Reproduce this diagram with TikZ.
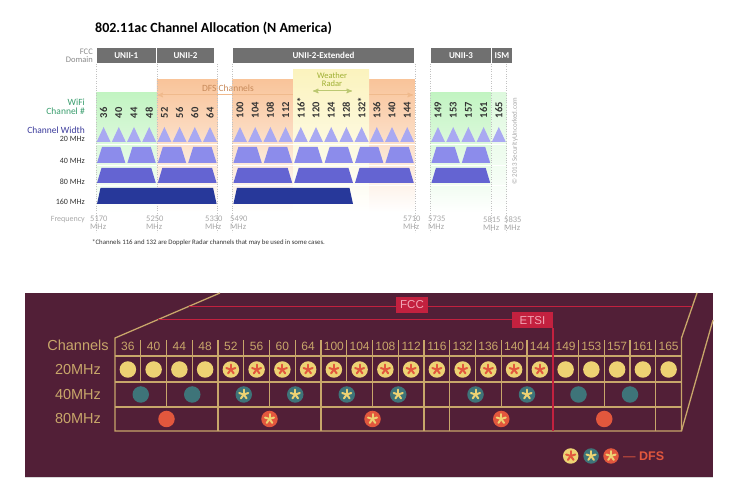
\documentclass[tikz,border=0pt]{standalone}
\usepackage{fontspec}
\setmainfont{Carlito}
\newfontfamily\arialfont{Liberation Sans}
\usetikzlibrary{arrows}
\usetikzlibrary{positioning}

\definecolor{barGray}{HTML}{707070}
\definecolor{labelGray}{HTML}{8A8A8A}
\definecolor{wifiGreen}{HTML}{3A9E6E}
\definecolor{widthBlue}{HTML}{3C3C9C}
\definecolor{tri20}{HTML}{A9A9F2}
\definecolor{trap40}{HTML}{8C8CEB}
\definecolor{trap80}{HTML}{6464D2}
\definecolor{trap160}{HTML}{27389A}
\definecolor{dfsOrange}{HTML}{F9C49A}
\definecolor{dfsText}{HTML}{C88A5A}
\definecolor{zoneGreen}{HTML}{C2F4C2}
\definecolor{radarYellow}{HTML}{FBF3BE}
\definecolor{radarText}{HTML}{A0B034}
\definecolor{freqGray}{HTML}{A8A8A8}
\definecolor{maroonBg}{HTML}{521F37}
\definecolor{gridTan}{HTML}{C8A66A}
\definecolor{chipYellow}{HTML}{EDD273}
\definecolor{chipTeal}{HTML}{3E7479}
\definecolor{chipRed}{HTML}{E2573D}
\definecolor{regRed}{HTML}{C3213F}
\definecolor{regText}{HTML}{F2A7B6}

% star of a DFS chip
\newcommand{\dfsmark}[2]{%
  \foreach \a in {-90,-18,54,126,198}
    \draw[#2,line width=2pt,line cap=round] (#1.center) -- ++(\a:4.8);}
% band shape: style, left, right, top, bottom, inset
\newcommand{\bandshape}[6]{%
  \fill[#1] ({#2+1},#5) -- ({#2+#6},#4) -- ({#3-#6},#4) -- ({#3-1},#5) -- cycle;}

\begin{document}
\begin{tikzpicture}[x=1pt,y=-1pt,>=stealth',
    domainbar/.style={fill=barGray,text=white,font=\fontsize{9}{9}\selectfont\bfseries,inner sep=0pt,minimum height=15pt},
    rowlabel/.style={anchor=east,inner sep=0pt,font=\fontsize{8}{8}\selectfont,text=black!80},
    chnum/.style={rotate=90,anchor=west,inner sep=0pt,font=\fontsize{10.5}{10.5}\selectfont\bfseries,text=black!80},
    freqlabel/.style={anchor=north west,align=left,inner sep=0pt,font=\fontsize{8.5}{8}\selectfont,text=freqGray},
    gridline/.style={gridTan,line width=1.3pt},
    regline/.style={regRed,line width=1.6pt},
    regbox/.style={fill=regRed,text=regText,font=\arialfont\fontsize{11.5}{12}\selectfont,inner sep=0pt,minimum height=16pt},
    tanlabel/.style={text=gridTan,font=\arialfont\fontsize{14.5}{15}\selectfont,inner sep=0pt},
    chlabel/.style={text=gridTan,font=\arialfont\fontsize{12}{12}\selectfont,inner sep=0pt},
    chip/.style={circle,inner sep=0pt,minimum size=16.5pt},
    chip20/.style={chip,fill=chipYellow},
    chip40/.style={chip,fill=chipTeal},
    chip80/.style={chip,fill=chipRed}]

  \fill[white] (0,0) rectangle (748,486);
  \useasboundingbox (0,0) rectangle (748,486);

  %%% upper chart
  \node[anchor=west,inner sep=0pt,font=\fontsize{14}{14}\selectfont\bfseries] (title) at (95,28) {802.11ac Channel Allocation (N America)};

  \shade[top color=zoneGreen,bottom color=white] (96,93) rectangle (156.8,212);
  \shade[top color=dfsOrange,bottom color=white] (156.8,80) rectangle (217.6,212);
  \shade[top color=dfsOrange,bottom color=white] (232.4,80) rectangle (414.8,212);
  \shade[top color=zoneGreen,bottom color=white] (430.4,93) rectangle (491.2,212);
  \shade[top color=zoneGreen!55,bottom color=white] (491.2,93) rectangle (506.4,212);

  \coordinate (dfsL) at (157.5,95);
  \coordinate (dfsR) at (413,95);
  \draw[dfsOrange!85!brown,line width=1pt,<->] (dfsL) -- (dfsR);
  \node[inner sep=0pt,font=\fontsize{9.5}{9.5}\selectfont,text=dfsText] (dfs) at (228,88.5) {DFS Channels};

  \shade[top color=radarYellow,bottom color=white] (293.2,70) rectangle (369.2,212);
  \node[align=center,inner sep=0pt,font=\fontsize{8.5}{7.5}\selectfont,text=radarText] (radar) at (332,79.5) {Weather\\Radar};
  \coordinate (radL) at (313,91);
  \coordinate (radR) at (352,91);
  \draw[radarText!70,line width=1pt,<->] (radL) -- (radR);

  \foreach \y in {144.5,165.5,185.5}
    \draw[white,line width=1.5pt] (96,\y) -- (506.4,\y);
  \foreach \x in {96,156.8,217.6,232.4,414.8,430.4,491.2,506.4}
    \draw[freqGray!70,dotted] (\x,64) -- (\x,232);

  \node[anchor=east,align=right,inner sep=0pt,font=\fontsize{8.5}{8}\selectfont,text=labelGray] (fccdom) at (93,56) {FCC\\Domain};
  \node[domainbar,minimum width=59.5pt] (unii1) at (126.25,55.5) {UNII-1};
  \node[domainbar,minimum width=57pt] (unii2) at (185.5,55.5) {UNII-2};
  \node[domainbar,minimum width=181pt] (unii2e) at (323.5,55.5) {UNII-2-Extended};
  \node[domainbar,minimum width=60pt] (unii3) at (461,55.5) {UNII-3};
  \node[domainbar,minimum width=20pt] (ism) at (502,55.5) {ISM};

  \node[rowlabel,align=right,font=\fontsize{9.5}{8.5}\selectfont,text=wifiGreen] (wifi) at (85,107) {WiFi\\Channel \#};
  \node[rowlabel,font=\fontsize{9.5}{9.5}\selectfont,text=widthBlue] (width) at (85,130.5) {Channel Width};
  \node[rowlabel] (w20) at (85,138.5) {20 MHz};
  \node[rowlabel] (w40) at (85,161) {40 MHz};
  \node[rowlabel] (w80) at (85,182) {80 MHz};
  \node[rowlabel] (w160) at (85,202) {160 MHz};
  \node[rowlabel,text=freqGray] (freq) at (85,220) {Frequency};

  % channel numbers and 20 MHz
  \foreach \ch [count=\i from 0] in {36,40,44,48,52,56,60,64} {
    \node[chnum] (ch\ch) at ({96+15.2*\i+7.6},118.5) {\ch};
    \fill[tri20] ({96+15.2*\i+0.6},142) -- ({96+15.2*\i+7.6},127) -- ({96+15.2*\i+14.6},142) -- cycle;
  }
  \foreach \ch [count=\i from 0] in {100,104,108,112,116*,120,124,128,132*,136,140,144} {
    \node[chnum] (ch\i) at ({232.4+15.2*\i+7.6},118.5) {\ch};
    \fill[tri20] ({232.4+15.2*\i+0.6},142) -- ({232.4+15.2*\i+7.6},127) -- ({232.4+15.2*\i+14.6},142) -- cycle;
  }
  \foreach \ch [count=\i from 0] in {149,153,157,161,165} {
    \node[chnum] (ch\ch) at ({430.4+15.2*\i+7.6},118.5) {\ch};
    \fill[tri20] ({430.4+15.2*\i+0.6},142) -- ({430.4+15.2*\i+7.6},127) -- ({430.4+15.2*\i+14.6},142) -- cycle;
  }

  % 40, 80 and 160 MHz
  \foreach \x in {96,126.4,156.8,187.2,232.4,262.8,293.2,323.6,354,384.4,430.4,460.8} {
    \bandshape{trap40}{\x}{\x+30.4}{147}{163}{6}
  }
  \foreach \x in {96,156.8,232.4,293.2,354,430.4} {
    \bandshape{trap80}{\x}{\x+60.8}{168}{183}{5.5}
  }
  \foreach \x in {96,232.4} {
    \bandshape{trap160}{\x}{\x+121.6}{188}{204}{4.5}
  }

  \node[freqlabel] (f5170) at (90,216) {5170\\MHz};
  \node[freqlabel] (f5250) at (146,216) {5250\\MHz};
  \node[freqlabel] (f5330) at (205,216) {5330\\MHz};
  \node[freqlabel] (f5490) at (230,216) {5490\\MHz};
  \node[freqlabel] (f5710) at (403,216) {5710\\MHz};
  \node[freqlabel] (f5735) at (428,216) {5735\\MHz};
  \node[freqlabel] (f5815) at (483,216) {5815\\MHz};
  \node[freqlabel] (f5835) at (504,216) {5835\\MHz};

  \node[rotate=90,anchor=west,inner sep=0pt,font=\fontsize{7}{7}\selectfont,text=freqGray] (copy) at (515,185) {\textcopyright\ 2013 SecurityUncorked.com};
  \node[anchor=west,inner sep=0pt,font=\fontsize{6.8}{7}\selectfont,text=black!80] (note) at (92,243) {*Channels 116 and 132 are Doppler Radar channels that may be used in some cases.};

  %%% lower chart
  \fill[maroonBg] (25,293) rectangle (713,477);
  \draw[black!15,line width=1pt] (25,478) -- (713,478);

  \coordinate (gNW) at (115,338);
  \coordinate (gSW) at (115,431);
  \coordinate (gNE) at (681.5,338);
  \coordinate (gSE) at (681.5,431);
  \draw[gridline] (220,293) -- (gNW) -- (gSW) -- (gSE) -- (gNE) -- (697,293);
  \draw[gridline] (gSE) -- (713,320);
  \foreach \y in {356,382,407}
    \draw[gridline] (115,\y) -- (681.5,\y);
  \foreach \k in {1,...,16,18,19,20,21}
    \draw[gridline] ({115+25.75*\k},340) -- ({115+25.75*\k},382);
  \foreach \k in {2,4,6,8,10,12,13,15,19,21}
    \draw[gridline] ({115+25.75*\k},382) -- ({115+25.75*\k},407);
  \foreach \k in {4,8,12,13,21}
    \draw[gridline] ({115+25.75*\k},407) -- ({115+25.75*\k},431);

  % FCC and ETSI
  \coordinate (fccL) at (188.5,306.5);
  \coordinate (fccR) at (692.4,306.5);
  \coordinate (etsiL) at (157.7,319.7);
  \coordinate (etsiB) at (552.75,431);
  \node[regbox,minimum width=32pt] (fcc) at (412,305) {FCC};
  \node[regbox,minimum width=41.5pt] (etsi) at (532.5,320.3) {ETSI};
  \draw[regline] (fccL) -- (fcc.west |- fccL);
  \draw[regline] (fcc.east |- fccR) -- (fccR);
  \draw[regline] (etsiL) -- (etsi.west |- etsiL);
  \draw[regline] (etsi.south -| etsiB) -- (etsiB);

  \node[tanlabel] (lbch) at (78,345.5) {Channels};
  \node[tanlabel] (lb20) at (78,369.5) {20MHz};
  \node[tanlabel] (lb40) at (78,394.5) {40MHz};
  \node[tanlabel] (lb80) at (78,419) {80MHz};

  \foreach \ch [count=\k from 0] in {36,40,44,48,52,56,60,64,100,104,108,112,116,132,136,140,144,149,153,157,161,165}
    \node[chlabel] (n\ch) at ({115+25.75*\k+12.875},346) {\ch};

  % 20 MHz chips
  \foreach \k/\ch in {0/36,1/40,2/44,3/48,17/149,18/153,19/157,20/161,21/165}
    \node[chip20] (a\ch) at ({115+25.75*\k+12.875},369.5) {};
  \foreach \k/\ch in {4/52,5/56,6/60,7/64,8/100,9/104,10/108,11/112,12/116,13/132,14/136,15/140,16/144} {
    \node[chip20] (a\ch) at ({115+25.75*\k+12.875},369.5) {};
    \dfsmark{a\ch}{chipRed}
  }
  % 40 MHz chips
  \foreach \k/\ch in {0/36,2/44,17/149,19/157}
    \node[chip40] (b\ch) at ({115+25.75*(\k+1)},394.5) {};
  \foreach \k/\ch in {4/52,6/60,8/100,10/108,13/132,15/140} {
    \node[chip40] (b\ch) at ({115+25.75*(\k+1)},394.5) {};
    \dfsmark{b\ch}{chipYellow}
  }
  % 80 MHz chips
  \foreach \k/\ch in {0/36,17/149}
    \node[chip80] (c\ch) at ({115+25.75*(\k+2)},419) {};
  \foreach \k/\ch in {4/52,8/100,13/132} {
    \node[chip80] (c\ch) at ({115+25.75*(\k+2)},419) {};
    \dfsmark{c\ch}{chipYellow}
  }

  % legend
  \node[chip20,minimum size=15.5pt] (legA) at (570.7,456) {};
  \dfsmark{legA}{chipRed}
  \node[chip40,minimum size=15.5pt,right=4.5pt of legA] (legB) {};
  \dfsmark{legB}{chipYellow}
  \node[chip80,minimum size=15.5pt,right=4pt of legB] (legC) {};
  \dfsmark{legC}{chipYellow}
  \node[anchor=west,inner sep=0pt,text=chipRed,font=\arialfont\fontsize{12.5}{12.5}\selectfont,right=4pt of legC] (legT) {\textemdash\ \textbf{DFS}};
\end{tikzpicture}
\end{document}
